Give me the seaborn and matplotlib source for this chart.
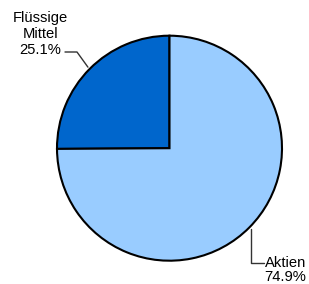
import numpy as np
import matplotlib
matplotlib.use("Agg")
import matplotlib.pyplot as plt
import seaborn as sns

labels = ["Flüssige\nMittel", "Aktien"]
shares = [25.1, 74.9]
colors = ["#0066CC", "#99CCFF"]

sns.set_style("white")
plt.rcParams['font.family'] = ['Liberation Sans', 'DejaVu Sans']

W, H = 309, 284
fig = plt.figure(figsize=(W / 100, H / 100), dpi=100)
ax = fig.add_axes([0, 0, 1, 1])


def py(y):
    # pixel row (from top) -> data y
    return H - y


cx, cy, r = 169.5, py(148.2), 112.5
wedges, _ = ax.pie(shares, colors=colors, startangle=90, counterclock=True,
                   center=(cx, cy), radius=r, frame=True,
                   wedgeprops=dict(edgecolor='black', linewidth=1.5))
ax.set_xlim(0, W)
ax.set_ylim(0, H)
ax.set_aspect('equal')
ax.axis('off')

# mid angles of wedges
mids = []
start = 90
for s in shares:
    ang = start + s / sum(shares) * 360
    mids.append(np.deg2rad((start + ang) / 2))
    start = ang

texts = [f"{l}\n{s:.1f}%" for l, s in zip(labels, shares)]
fs = 10.6

# Flüssige Mittel (upper left)
a = mids[0]
p0 = (cx + (r + 2.5) * np.cos(a), cy + (r + 2.5) * np.sin(a))
ax.plot([p0[0], 77, 65], [p0[1], py(52), py(52)], color='#333333', lw=1)
for t, base in zip(texts[0].split('\n'), [21.7, 37.6, 54]):
    ax.text(40.3, py(base), t, ha='center', va='baseline', fontsize=fs, color='black')

# Aktien (lower right)
a = mids[1]
p0 = (cx + (r + 2.5) * np.cos(a), cy + (r + 2.5) * np.sin(a))
ax.plot([p0[0], p0[0], 264], [p0[1], py(263), py(263)], color='#333333', lw=1)
for t, base in zip(texts[1].split('\n'), [267.3, 281]):
    ax.text(285.5, py(base), t, ha='center', va='baseline', fontsize=fs, color='black')

fig.savefig("out.png", dpi=100)
